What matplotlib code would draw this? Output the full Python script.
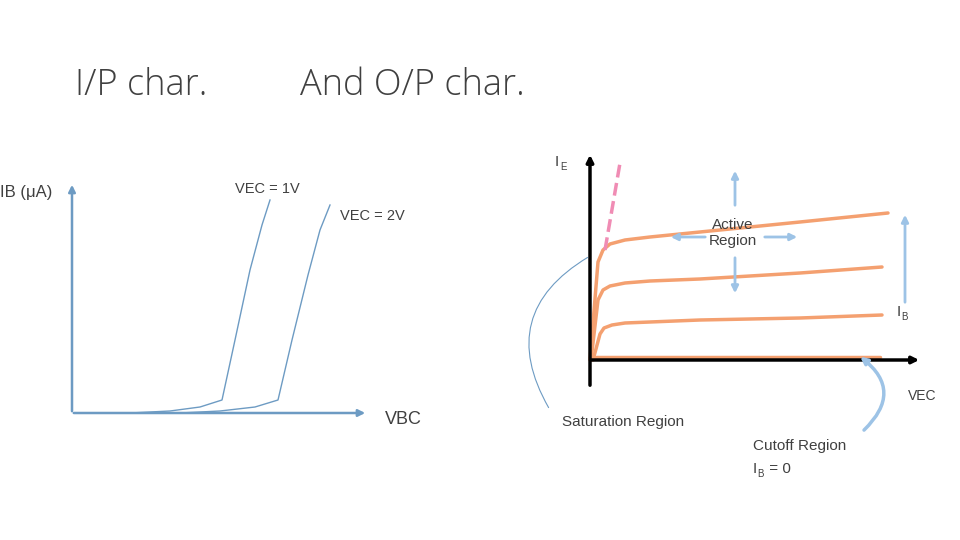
import matplotlib
matplotlib.use("Agg")
import matplotlib.pyplot as plt

# input characteristic curves (pixel-space drawing coordinates)
in1_x = [130, 170, 200, 222, 235, 250, 262, 270]
in1_y = [413, 411, 407, 400, 340, 270, 225, 200]
in2_x = [180, 220, 255, 278, 292, 308, 320, 330]
in2_y = [413, 411, 407, 400, 340, 275, 230, 205]

# output characteristic curves
out_x = [[590, 598, 603, 610, 625, 650, 700, 800, 888],
         [591, 598, 603, 610, 625, 650, 700, 800, 882],
         [593, 600, 604, 612, 625, 650, 700, 800, 882],
         [590, 700, 880]]
out_y = [[360, 262, 250, 244, 240, 237, 232, 222, 213],
         [360, 300, 290, 286, 283, 281, 279, 273, 267],
         [360, 334, 328, 325, 323, 322, 320, 318, 315],
         [357, 357, 357]]

fig = plt.figure(figsize=(9.6, 5.4), dpi=100)
ax = fig.add_axes([0, 0, 1, 1])
ax.set_xlim(0, 960); ax.set_ylim(540, 0); ax.axis('off')

blue = '#6D9BC3'; lblue = '#9DC3E6'; orange = '#F4A070'; gray = '#404040'
fam = ['Liberation Sans', 'DejaVu Sans']

ax.text(75, 95, 'I/P char.', fontsize=26, color=gray, family='Open Sans', fontweight='light')
ax.text(300, 95, 'And O/P char.', fontsize=26, color=gray, family='Open Sans', fontweight='light')

# left axes
ax.annotate('', xy=(72, 182), xytext=(72, 414), arrowprops=dict(arrowstyle='-|>', color=blue, lw=1.8))
ax.annotate('', xy=(368, 413), xytext=(71, 413), arrowprops=dict(arrowstyle='-|>', color=blue, lw=1.8))
ax.plot(in1_x, in1_y, color=blue, lw=1)
ax.plot(in2_x, in2_y, color=blue, lw=1)
ax.text(0, 197, 'IB (μA)', fontsize=12, color=gray, family=fam)
ax.text(385, 424, 'VBC', fontsize=13, color=gray, family=fam)
ax.text(235, 193, 'VEC = 1V', fontsize=10.5, color=gray, family=fam)
ax.text(340, 220, 'VEC = 2V', fontsize=10.5, color=gray, family=fam)

# right axes
ax.annotate('', xy=(590, 152), xytext=(590, 388), arrowprops=dict(arrowstyle='-|>', color='black', lw=2.5))
ax.annotate('', xy=(922, 360), xytext=(588, 360), arrowprops=dict(arrowstyle='-|>', color='black', lw=2.5))
for xs, ys in zip(out_x, out_y):
    ax.plot(xs, ys, color=orange, lw=2.5, solid_joinstyle='round', solid_capstyle='round')
ax.plot([605, 620], [250, 163], color='#F08CB4', lw=2.5, ls='--')
ax.text(555, 166, 'I', fontsize=11, color=gray, family=fam)
ax.text(560, 170, 'E', fontsize=7, color=gray, family=fam)
ax.text(908, 400, 'VEC', fontsize=10, color=gray, family=fam)

arr = dict(arrowstyle='-|>', color=lblue, lw=2)
ax.annotate('', xy=(735, 168), xytext=(735, 208), arrowprops=arr)
ax.annotate('', xy=(735, 296), xytext=(735, 255), arrowprops=arr)
ax.annotate('', xy=(668, 237), xytext=(708, 237), arrowprops=arr)
ax.annotate('', xy=(800, 237), xytext=(762, 237), arrowprops=arr)
ax.text(733, 233, 'Active\nRegion', fontsize=11, color=gray, ha='center', va='center', family=fam, linespacing=1.1)
ax.annotate('', xy=(905, 212), xytext=(905, 305), arrowprops=arr)
ax.text(897, 316, 'I', fontsize=11, color=gray, family=fam)
ax.text(901, 320, 'B', fontsize=7, color=gray, family=fam)

ax.annotate('', xy=(858, 355), xytext=(862, 432),
            arrowprops=dict(arrowstyle='-|>', color=lblue, lw=2.5, connectionstyle='arc3,rad=0.6'))
ax.annotate('', xy=(590, 256), xytext=(550, 410),
            arrowprops=dict(arrowstyle='-', color=blue, lw=0.8, connectionstyle='arc3,rad=-0.5'))
ax.text(562, 426, 'Saturation Region', fontsize=11, color=gray, family=fam)
ax.text(753, 450, 'Cutoff Region', fontsize=11, color=gray, family=fam)
ax.text(753, 473, 'I', fontsize=11, color=gray, family=fam)
ax.text(757, 477, 'B', fontsize=7, color=gray, family=fam)
ax.text(765, 473, ' = 0', fontsize=11, color=gray, family=fam)

fig.savefig('out.png', dpi=100)
